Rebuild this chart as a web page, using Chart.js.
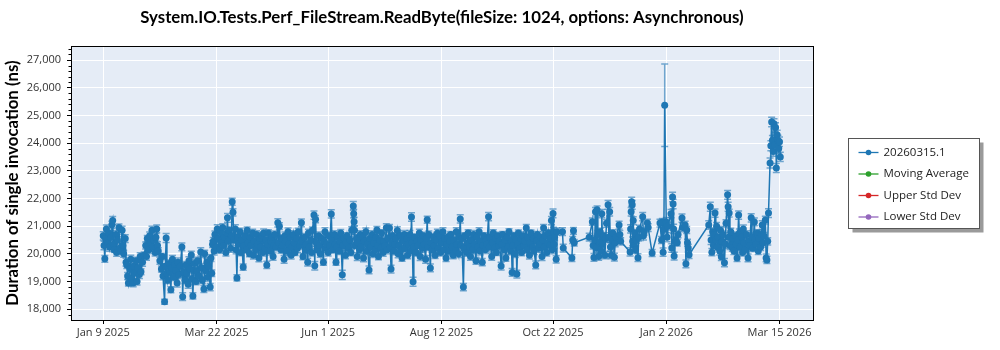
<!DOCTYPE html>
<html>
<head>
    <meta charset="utf-8">
    <title>Perf_FileStream.ReadByte</title>
    <script src="https://cdn.jsdelivr.net/npm/chart.js"></script>
    <style>
        body { margin: 0; background: #fff; }
        #wrap { width: 1000px; height: 350px; }
    </style>
</head>
<body>
<div id="wrap"><canvas id="perfChart" width="1000" height="350"></canvas></div>
<script>
// one entry per run day; runValues holds every run of that day (ns), runErrors the std dev bar
const runDates = [
    '2025-01-09','2025-01-10','2025-01-11','2025-01-12','2025-01-13','2025-01-14','2025-01-15',
    '2025-01-16','2025-01-17','2025-01-18','2025-01-19','2025-01-20','2025-01-21','2025-01-22',
    '2025-01-23','2025-01-24','2025-01-25','2025-01-26','2025-01-27','2025-01-28','2025-01-29',
    '2025-01-30','2025-01-31','2025-02-01','2025-02-02','2025-02-03','2025-02-04','2025-02-05',
    '2025-02-06','2025-02-07','2025-02-08','2025-02-09','2025-02-10','2025-02-11','2025-02-12',
    '2025-02-13','2025-02-14','2025-02-15','2025-02-16','2025-02-17','2025-02-18','2025-02-19',
    '2025-02-20','2025-02-21','2025-02-22','2025-02-23','2025-02-24','2025-02-25','2025-02-26',
    '2025-02-27','2025-02-28','2025-03-01','2025-03-02','2025-03-03','2025-03-04','2025-03-05',
    '2025-03-06','2025-03-07','2025-03-08','2025-03-09','2025-03-10','2025-03-11','2025-03-12',
    '2025-03-13','2025-03-14','2025-03-15','2025-03-16','2025-03-17','2025-03-18','2025-03-19',
    '2025-03-20','2025-03-21','2025-03-22','2025-03-23','2025-03-24','2025-03-25','2025-03-26',
    '2025-03-27','2025-03-28','2025-03-29','2025-03-30','2025-03-31','2025-04-01','2025-04-02',
    '2025-04-03','2025-04-04','2025-04-05','2025-04-06','2025-04-07','2025-04-08','2025-04-09',
    '2025-04-10','2025-04-11','2025-04-12','2025-04-13','2025-04-14','2025-04-15','2025-04-16',
    '2025-04-17','2025-04-18','2025-04-19','2025-04-20','2025-04-21','2025-04-22','2025-04-23',
    '2025-04-24','2025-04-25','2025-04-26','2025-04-27','2025-04-28','2025-04-29','2025-04-30',
    '2025-05-01','2025-05-02','2025-05-03','2025-05-04','2025-05-05','2025-05-06','2025-05-07',
    '2025-05-08','2025-05-09','2025-05-10','2025-05-11','2025-05-12','2025-05-13','2025-05-14',
    '2025-05-15','2025-05-16','2025-05-17','2025-05-18','2025-05-19','2025-05-20','2025-05-21',
    '2025-05-22','2025-05-23','2025-05-24','2025-05-25','2025-05-26','2025-05-27','2025-05-28',
    '2025-05-29','2025-05-30','2025-05-31','2025-06-01','2025-06-02','2025-06-03','2025-06-04',
    '2025-06-05','2025-06-06','2025-06-07','2025-06-08','2025-06-09','2025-06-10','2025-06-11',
    '2025-06-12','2025-06-13','2025-06-14','2025-06-15','2025-06-16','2025-06-17','2025-06-18',
    '2025-06-19','2025-06-20','2025-06-21','2025-06-22','2025-06-23','2025-06-24','2025-06-25',
    '2025-06-26','2025-06-27','2025-06-28','2025-06-29','2025-06-30','2025-07-01','2025-07-02',
    '2025-07-03','2025-07-04','2025-07-05','2025-07-06','2025-07-07','2025-07-08','2025-07-09',
    '2025-07-10','2025-07-11','2025-07-12','2025-07-13','2025-07-14','2025-07-15','2025-07-16',
    '2025-07-17','2025-07-18','2025-07-19','2025-07-20','2025-07-21','2025-07-22','2025-07-23',
    '2025-07-24','2025-07-25','2025-07-26','2025-07-27','2025-07-28','2025-07-29','2025-07-30',
    '2025-07-31','2025-08-01','2025-08-02','2025-08-03','2025-08-04','2025-08-05','2025-08-06',
    '2025-08-07','2025-08-08','2025-08-09','2025-08-10','2025-08-11','2025-08-12','2025-08-13',
    '2025-08-14','2025-08-15','2025-08-16','2025-08-17','2025-08-18','2025-08-19','2025-08-20',
    '2025-08-21','2025-08-22','2025-08-23','2025-08-24','2025-08-25','2025-08-26','2025-08-27',
    '2025-08-28','2025-08-29','2025-08-30','2025-08-31','2025-09-01','2025-09-02','2025-09-03',
    '2025-09-04','2025-09-05','2025-09-06','2025-09-07','2025-09-08','2025-09-09','2025-09-10',
    '2025-09-11','2025-09-12','2025-09-13','2025-09-14','2025-09-15','2025-09-16','2025-09-17',
    '2025-09-18','2025-09-19','2025-09-20','2025-09-21','2025-09-22','2025-09-23','2025-09-24',
    '2025-09-25','2025-09-26','2025-09-27','2025-09-28','2025-09-29','2025-09-30','2025-10-01',
    '2025-10-02','2025-10-03','2025-10-04','2025-10-05','2025-10-06','2025-10-07','2025-10-08',
    '2025-10-09','2025-10-10','2025-10-11','2025-10-12','2025-10-13','2025-10-14','2025-10-15',
    '2025-10-16','2025-10-17','2025-10-18','2025-10-19','2025-10-20','2025-10-21','2025-10-22',
    '2025-10-23','2025-10-24','2025-10-28','2025-11-03','2025-11-04','2025-11-14','2025-11-16',
    '2025-11-17','2025-11-18','2025-11-19','2025-11-20','2025-11-21','2025-11-22','2025-11-23',
    '2025-11-24','2025-11-25','2025-11-26','2025-11-27','2025-11-28','2025-11-29','2025-11-30',
    '2025-12-01','2025-12-03','2025-12-04','2025-12-10','2025-12-11','2025-12-12','2025-12-13',
    '2025-12-14','2025-12-15','2025-12-16','2025-12-18','2025-12-19','2025-12-21','2025-12-24',
    '2025-12-29','2025-12-30','2025-12-31','2026-01-01','2026-01-02','2026-01-03','2026-01-05',
    '2026-01-06','2026-01-07','2026-01-08','2026-01-09','2026-01-12','2026-01-14','2026-01-15',
    '2026-01-16','2026-01-29','2026-01-30','2026-01-31','2026-02-01','2026-02-02','2026-02-03',
    '2026-02-04','2026-02-05','2026-02-06','2026-02-07','2026-02-08','2026-02-09','2026-02-10',
    '2026-02-11','2026-02-12','2026-02-13','2026-02-14','2026-02-15','2026-02-16','2026-02-17',
    '2026-02-18','2026-02-19','2026-02-20','2026-02-21','2026-02-22','2026-02-23','2026-02-24',
    '2026-02-25','2026-02-26','2026-02-27','2026-02-28','2026-03-01','2026-03-02','2026-03-03',
    '2026-03-04','2026-03-05','2026-03-06','2026-03-07','2026-03-08','2026-03-09','2026-03-10',
    '2026-03-11','2026-03-12','2026-03-13','2026-03-14','2026-03-15'
];

const runValues = [
    [20650,20300],[19820,20550],[20900],[20400,20750],[20250],[20600,21050],[21200,20350],
    [20150],[20700,20050],[20500],[20950,20200],[20100],[20850,20300],[20000],
    [20550,19700],[19600,19200],[18950],[19450,19800],[19100],[18950,19550],[19300],
    [19750,19000],[19500],[19250,19900],[19350],[19700],[19950],[20300,19900],
    [20550],[20150,20650],[20400],[20850,20250],[20500],[20050,20600],[20900,20300],
    [20100],[19750],[19450,19900],[19200],[18270,19550],[20570,19300],[19050],
    [19650,19350],[18700,19500],[19800],[19150,19600],[19400],[18950,19700],[19250],
    [19550],[20250,18450],[19350],[19050,19600],[19300],[18900,19750],[19450],
    [19960,19100],[18480,19400],[19650],[19000,19350],[19750],[19200],[20070,19500],
    [19050],[18730,20000],[19400],[19700,19150],[19550],[18800,19850],[19300,20350],
    [20450,20100],[20700],[20250,20900],[20550],[20150,20800],[20400],[20950,20300],
    [20600],[20050,20750],[21300,20450],[20850],[20200,20650],[21880,21500],[20500],
    [20900,20150],[19130,20600],[20350],[20800,20050],[20500],[19520,20300],[20650],
    [20150,20850],[20400],[20000,20600],[20300],[20750,19950],[20450],[20150,20700],
    [20350],[19850,20550],[20250],[20650,20050],[20750],[20200,20500],[19600,20350],
    [20750],[20100,20450],[20600],[19900,20300],[20700],[20250],[21120,20400],
    [21000],[20150,20550],[20300],[19800,20650],[20450],[20100,20800],[20350],
    [20600,19950],[20250],[20700,20400],[20050],[20550,20200],[20800],[20300],
    [21120,20450],[19900],[20600,20150],[20350],[19700,20750],[20250],[20500,20050],
    [20850],[21400,19570],[21250,20400],[20150],[20650,20300],[20000],[20550],
    [19700,20450],[20800,20200],[20350],[20050,20650],[20300],[21440,20500],[20150],
    [20700,20350],[19700,20250],[20600],[20100,20450],[20750],[19240,20300],[20550],
    [19950,20400],[20650],[20200],[20500,20050],[20850],[21730,21450,21160,20850],[20300],
    [20550,19900],[20400],[20150,20700],[20250],[20600,19850],[20450],[20800,20100],
    [20350],[19420,20550],[20250],[20700,20000],[20400],[20150,20600],[20860,20300],
    [19900],[20500,20200],[20750],[20050,20450],[20300],[20940,20150],[20550],
    [20930,20250],[19450,20400],[20650],[20100,20350],[20550],[20840,20000],[20300],
    [20650,20150],[19850],[20450,20700],[20200],[20550,19950],[20350],[20700,20100],
    [21330,20400],[18990,20250],[20600],[20050,20450],[20300],[20750,19900],[20500],
    [20200,20650],[20350],[19800,20550],[21230,20250],[20700],[19490,20400],[20150],
    [20600,20300],[19950],[20500,20750],[20200],[20650,20050],[20400],[20800,20150],
    [20550],[19850,20350],[20600],[20100,20450],[20700],[20250,19950],[20500],
    [20150,20800],[20350],[20000,20600],[21260,20300],[20550],[18800,20200],[20650],
    [20050,20400],[20750],[20250,19900],[20500],[20150,20700],[20350],[19750,20600],
    [20250],[20800,20100],[20450],[19700,20300],[20650],[20150,20500],[20350],
    [21340,20250],[20600],[19900,20400],[20750],[20200,20550],[20050],[20650,20300],
    [20450],[19560,20350],[20700],[20150,20500],[19850],[20600,20250],[20800],
    [20100,20450],[19330,20300],[20650],[20000,20500],[19270,20350],[20750],[20200,20550],
    [20050],[20650,20300],[20450],[20930,20150],[20600],[19950,20400],[20750],
    [20250,20550],[20100],[19600,20450],[20700],[20200,20350],[20600],[19900,20500],
    [20930,20250],[20650],[20050,20400],[20750],[20300,20550],[21200,20150],[21460,20800,20350],
    [20600],[19800,20800],[20800,20210],[19850,20500],[20830,20400],[20600],[21160,20300],
    [19870,20500],[21520,20200],[21590,20700],[19900,20400],[20800,20100],[21450,20350],[20650],
    [19950,20550],[21100],[21770,20600],[21520,20250],[19950,20500],[20750],[19880,20400],
    [20600],[21040,20700],[20450],[20070,20900,21520],[21880,21770,20450],[21200,20300],[20750,20150],
    [20500],[19860,20600],[20900],[21340,20650],[20800],[21110,20950],[20030],
    [21110],[20500,21150],[20060,20900],[25370],[21150,20600],[21000],[21450,20210],
    [22050,21800,20900],[19920,20450],[20500],[20400,20700],[21290,20950],[21040,19640],[20860,20400],
    [20210,19970],[21040],[21700,20500],[20060,20800],[20300,20700],[21470,20500],[21000,20250],
    [20600],[20100,20850],[19890,20450],[20700],[19680,20350],[21100],[22130,21700,20600],
    [21470,20300],[20800],[20220,20550],[20100],[20650,20350],[19850,20500],[21400,20750],
    [20250],[20600,20050],[20900,20400],[20150],[20700],[19850,20450],[20300],
    [21300,20600],[20200],[21150,20500],[20350],[20750,20100],[20550],[20250,20700],
    [21040,20400],[20650],[21220,19850],[19780,20450],[21470],[23280,23900],[24760,24100],
    [23700,24700],[23950,24560],[23100,24300],[24100,23800],[24050,23500]
];

const runErrors = [
    150,120,140,110,160,130,150,
    100,140,120,130,110,150,120,
    140,130,110,150,120,140,100,
    130,120,140,110,150,120,130,
    110,140,120,150,100,130,140,
    120,130,110,140,90,160,120,
    130,110,140,120,130,150,110,
    120,140,130,120,110,140,120,
    130,110,140,120,130,110,150,
    120,130,110,140,120,130,120,
    140,120,150,110,130,120,140,
    110,130,160,120,140,130,120,
    150,110,130,120,140,110,130,
    120,150,110,130,140,120,130,
    110,140,120,130,150,110,130,
    120,140,110,130,120,140,150,
    120,130,110,140,120,130,110,
    140,120,130,110,150,120,130,
    140,110,130,120,140,110,130,
    120,150,130,110,140,120,130,
    110,140,120,130,110,150,120,
    130,110,140,120,130,170,120,
    130,110,140,120,130,160,120,
    140,110,130,120,140,110,130,
    120,140,110,130,120,140,130,
    110,130,120,140,110,150,120,
    130,140,110,130,120,140,110,
    130,120,140,110,130,120,140,
    150,160,120,130,110,140,120,
    130,110,140,130,120,140,110,
    130,120,140,110,130,120,140,
    110,130,120,140,110,130,120,
    140,110,130,150,120,130,110,
    140,120,130,110,140,120,130,
    110,140,120,130,110,140,120,
    150,110,130,120,140,110,130,
    120,140,110,130,120,140,110,
    130,140,120,130,140,110,130,
    120,140,110,130,120,140,110,
    130,120,140,110,130,120,140,
    130,110,130,120,140,150,160,
    120,130,140,130,120,140,130,
    140,150,140,130,120,150,120,
    130,140,160,150,130,120,140,
    120,140,130,150,160,140,130,
    120,140,130,150,120,140,130,
    140,130,150,1490,160,140,150,
    170,140,130,120,150,140,130,
    140,150,160,130,120,150,130,
    120,140,130,120,150,130,160,
    140,120,130,120,140,130,150,
    120,130,140,120,130,140,120,
    150,120,140,130,120,140,130,
    150,120,140,130,160,180,170,
    180,170,160,180,170
];

const tickDates = ['2025-01-09', '2025-03-22', '2025-06-01', '2025-08-12', '2025-10-22', '2026-01-02', '2026-03-15'];
const tickLabels = ['Jan 9 2025', 'Mar 22 2025', 'Jun 1 2025', 'Aug 12 2025', 'Oct 22 2025', 'Jan 2 2026', 'Mar 15 2026'];
const yTickValues = [18000, 19000, 20000, 21000, 22000, 23000, 24000, 25000, 26000, 27000];

const seriesLabels = ['20260315.1', 'Moving Average', 'Upper Std Dev', 'Lower Std Dev'];
const seriesColors = ['#1f77b4', '#2ca02c', '#d62728', '#9467bd'];

// x axis is "days since first tick"
const startMs = Date.parse(tickDates[0]);
const toDay = s => (Date.parse(s) - startMs) / 86400000;

const points = [];
const pointErrors = [];
const nDays = Math.min(runDates.length, runValues.length, runErrors.length);
for (let i = 0; i < nDays; i++) {
    const d = toDay(runDates[i]);
    const vals = runValues[i];
    vals.forEach((v, k) => {
        points.push({ x: d + k / vals.length, y: v });
        pointErrors.push(runErrors[i]);
    });
}

const plotBackground = {
    id: 'plotBackground',
    beforeDraw(chart) {
        const { ctx, chartArea: a } = chart;
        ctx.save();
        ctx.fillStyle = '#e5ecf6';
        ctx.fillRect(a.left, a.top, a.right - a.left, a.bottom - a.top);
        ctx.restore();
    }
};

const errorBars = {
    id: 'errorBars',
    beforeDatasetsDraw(chart) {
        const ctx = chart.ctx;
        const ys = chart.scales.y;
        const ds = chart.data.datasets[0];
        const meta = chart.getDatasetMeta(0);
        ctx.save();
        ctx.strokeStyle = 'rgba(31, 119, 180, 0.6)';
        ctx.lineWidth = 1.5;
        meta.data.forEach((pt, i) => {
            const v = ds.data[i].y;
            const e = ds.errorBars[i];
            const top = ys.getPixelForValue(v + e);
            const bot = ys.getPixelForValue(v - e);
            ctx.beginPath();
            ctx.moveTo(pt.x, top);
            ctx.lineTo(pt.x, bot);
            ctx.moveTo(pt.x - 3.5, top);
            ctx.lineTo(pt.x + 3.5, top);
            ctx.moveTo(pt.x - 3.5, bot);
            ctx.lineTo(pt.x + 3.5, bot);
            ctx.stroke();
        });
        ctx.restore();
    }
};

const frameAndMinor = {
    id: 'frameAndMinor',
    afterDraw(chart) {
        const { ctx, chartArea: a } = chart;
        const ys = chart.scales.y;
        ctx.save();
        ctx.strokeStyle = '#000';
        ctx.lineWidth = 1;
        // minor ticks on the y axis
        ctx.beginPath();
        for (let v = ys.min - (ys.min % 200) + 200; v < ys.max; v += 200) {
            if (v % 1000 === 0) continue;
            const y = Math.round(ys.getPixelForValue(v)) + 0.5;
            ctx.moveTo(a.left - 2.5, y);
            ctx.lineTo(a.left, y);
        }
        ctx.stroke();
        ctx.strokeRect(Math.round(a.left) + 0.5, Math.round(a.top) + 0.5,
            Math.round(a.right - a.left), Math.round(a.bottom - a.top));
        ctx.restore();
    }
};

const legendBox = {
    id: 'legendBox',
    afterDraw(chart) {
        const { ctx, chartArea: a } = chart;
        const w = 131, h = 90;
        const x = Math.round(a.right + 35) + 0.5;
        const y = Math.round((a.top + a.bottom) / 2 - h / 2) + 0.5;
        ctx.save();
        ctx.fillStyle = '#9a9a9a';
        ctx.fillRect(x + 4, y + 4, w, h);
        ctx.fillStyle = '#fff';
        ctx.fillRect(x, y, w, h);
        ctx.strokeStyle = '#555';
        ctx.lineWidth = 1;
        ctx.strokeRect(x, y, w, h);
        ctx.font = '11.5px "Open Sans"';
        ctx.textBaseline = 'middle';
        chart.data.datasets.forEach((ds, i) => {
            const ry = y + 14 + i * 21.5;
            ctx.strokeStyle = ds.borderColor;
            ctx.fillStyle = ds.borderColor;
            ctx.lineWidth = 1.3;
            ctx.beginPath();
            ctx.moveTo(x + 10, ry);
            ctx.lineTo(x + 30, ry);
            ctx.stroke();
            ctx.beginPath();
            ctx.arc(x + 20, ry, 2.8, 0, Math.PI * 2);
            ctx.fill();
            ctx.fillStyle = '#222';
            ctx.fillText(ds.label, x + 35, ry);
        });
        ctx.restore();
    }
};

const tickFont = { family: '"Open Sans"', size: 11 };

new Chart(document.getElementById('perfChart'), {
    type: 'line',
    data: {
        datasets: seriesLabels.map((label, i) => ({
            label: label,
            data: i === 0 ? points : [],
            errorBars: i === 0 ? pointErrors : [],
            borderColor: seriesColors[i],
            backgroundColor: seriesColors[i],
            borderWidth: 1.5,
            pointRadius: 3.5,
            pointBorderWidth: 0,
            pointHoverRadius: 3.5,
            tension: 0
        }))
    },
    options: {
        responsive: false,
        animation: false,
        devicePixelRatio: 1,
        layout: { padding: { left: 0, right: 187, top: 0, bottom: 0 } },
        plugins: {
            legend: { display: false },
            tooltip: { enabled: false },
            title: {
                display: true,
                fullSize: false,
                text: 'System.IO.Tests.Perf_FileStream.ReadByte(fileSize: 1024, options: Asynchronous)',
                color: '#000',
                font: { family: 'Lato', size: 16.8, weight: 'bold' },
                padding: { top: 8, bottom: 18 }
            }
        },
        scales: {
            x: {
                type: 'linear',
                min: -20.5,
                max: 451.3,
                afterBuildTicks: s => { s.ticks = tickDates.map(t => ({ value: toDay(t) })); },
                afterFit: s => { s.height = 30; },
                grid: { color: '#ffffff', lineWidth: 1, tickColor: '#000', tickLength: 4 },
                border: { display: false },
                ticks: {
                    autoSkip: false,
                    maxRotation: 0,
                    padding: 2,
                    color: '#333',
                    font: tickFont,
                    callback: (v, i) => tickLabels[i]
                }
            },
            y: {
                min: 17610,
                max: 27500,
                afterBuildTicks: s => { s.ticks = yTickValues.map(v => ({ value: v })); },
                afterFit: s => { s.width = 71; },
                grid: { color: '#ffffff', lineWidth: 1, tickColor: '#000', tickLength: 4 },
                border: { display: false },
                ticks: {
                    padding: 6,
                    color: '#333',
                    font: tickFont,
                    callback: v => v.toLocaleString('en-US')
                },
                title: {
                    display: true,
                    text: 'Duration of single invocation (ns)',
                    color: '#000',
                    font: { family: 'Lato', size: 16.8, weight: 'bold' },
                    padding: { top: 3, bottom: 0 }
                }
            }
        }
    },
    plugins: [plotBackground, errorBars, frameAndMinor, legendBox]
});
</script>
</body>
</html>
